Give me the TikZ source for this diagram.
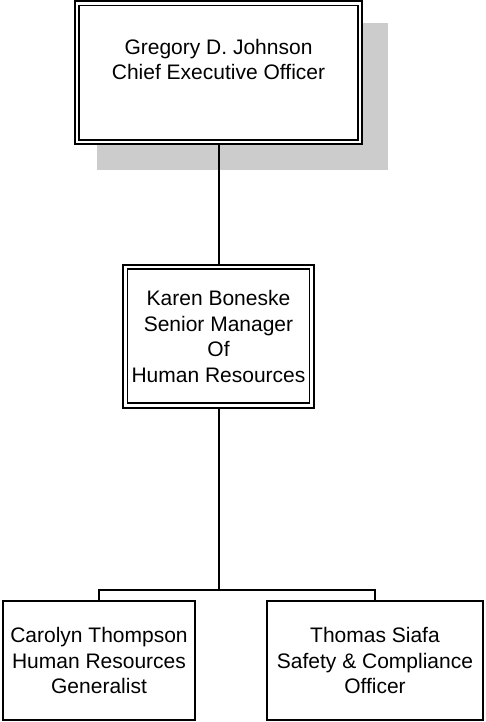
\documentclass[tikz,border=0pt]{standalone}
\usepackage{fontspec}
\setmainfont{Liberation Sans}
\usepackage{tikz}
\usetikzlibrary{calc,backgrounds}
\tikzset{
  dblbox/.style={draw, double, line width=1.75pt, double distance=2.75pt,
    fill=white, align=center, inner sep=0pt},
  plainbox/.style={draw, line width=2pt, fill=white, align=center,
    inner sep=0pt, minimum height=119pt},
  link/.style={line width=2pt},
}
\begin{document}
\begin{tikzpicture}[x=1pt,y=-1pt,font=\fontsize{21}{25.5}\selectfont]
\useasboundingbox (0,0) rectangle (485,722);
\node[dblbox, minimum width=283pt, minimum height=138.75pt, text depth=26pt]
  (ceo) at (218.5,72.6) {Gregory D. Johnson\\Chief Executive Officer};
\node[dblbox, minimum width=186.5pt, minimum height=138.5pt]
  (mgr) at (218.5,336.25) {Karen Boneske\\Senior Manager\\Of\\Human Resources};
\node[plainbox, minimum width=192pt]
  (hr) at (99,660.5) {Carolyn Thompson\\Human Resources\\Generalist};
\node[plainbox, minimum width=216pt]
  (safety) at (375,660.5) {Thomas Siafa\\Safety \& Compliance\\Officer};
\coordinate (bus) at ($(mgr.south)+(0,183.5)$);
\begin{scope}[on background layer]
%shadow of the top box
\fill[black!20]
  ([shift={(21,21)}]ceo.north west) rectangle
  ([shift={(27.5,27)}]ceo.south east);
\draw[link] (ceo) -- (mgr);
\draw[link] (mgr) -- (bus);
\draw[link] (hr.north) |- (bus) -| (safety.north);
\end{scope}
\end{tikzpicture}
\end{document}
